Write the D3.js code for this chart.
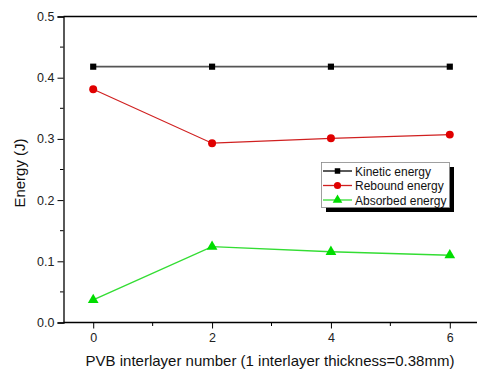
<!DOCTYPE html>
<html><head><meta charset="utf-8">
<script src="https://cdn.jsdelivr.net/npm/d3@7"></script>
<style>body{margin:0;background:#fff}svg{display:block}text{font-family:Arial,"Liberation Sans",sans-serif}</style>
</head><body><svg id="c" width="477" height="373"></svg>
<script>
const xValues = [0, 2, 4, 6];
const kinetic = [0.418, 0.418, 0.418, 0.418];
const rebound = [0.381, 0.293, 0.301, 0.307];
const absorbed = [0.037, 0.124, 0.1155, 0.110];
const seriesNames = ["Kinetic energy", "Rebound energy", "Absorbed energy"];
const xTicks = [0, 2, 4, 6];
const yTicks = [0.0, 0.1, 0.2, 0.3, 0.4, 0.5];

const svg = d3.select("#c");
const x = d3.scaleLinear().domain([-0.5, 6.5]).range([63.5, 479.5]);
const y = d3.scaleLinear().domain([0, 0.5]).range([322.5, 16.5]);

svg.append("line").attr("x1", 63.5).attr("x2", 477).attr("y1", y(0.5)).attr("y2", y(0.5)).attr("stroke", "#000").attr("stroke-width", 1.3);

const yMinor = [0.05, 0.15, 0.25, 0.35, 0.45];
svg.append("g").selectAll("line").data(yMinor).join("line")
  .attr("x1", 60).attr("x2", 63.5).attr("y1", d => y(d)).attr("y2", d => y(d)).attr("stroke", "#000");
const xMinor = [1, 3, 5];
svg.append("g").selectAll("line").data(xMinor).join("line")
  .attr("y1", 322.5).attr("y2", 326).attr("x1", d => x(d)).attr("x2", d => x(d)).attr("stroke", "#000");

const yAxis = svg.append("g").attr("transform", "translate(63.5,0)")
  .call(d3.axisLeft(y).tickValues(yTicks).tickFormat(d3.format(".1f")).tickSize(6).tickPadding(3));
const xAxis = svg.append("g").attr("transform", "translate(0,322.5)")
  .call(d3.axisBottom(x).tickValues(xTicks).tickFormat(d3.format("d")).tickSize(6).tickPadding(5));
[yAxis, xAxis].forEach(a => {
  a.select(".domain").attr("stroke-width", 1.3);
  a.selectAll("text").attr("font-size", 12.5).attr("fill", "#222");
});
xAxis.select(".domain").attr("d", "M63.5,0H477");

svg.append("text").attr("x", 270).attr("y", 366).attr("text-anchor", "middle")
  .attr("font-size", 15).attr("fill", "#111").text("PVB interlayer number (1 interlayer thickness=0.38mm)");
svg.append("text").attr("transform", "translate(25,173) rotate(-90)").attr("text-anchor", "middle")
  .attr("font-size", 15).attr("fill", "#111").text("Energy (J)");

const series = [
  {vals: kinetic, color: "#555", mcolor: "#000", shape: d3.symbolSquare, size: 38, w: 1.8},
  {vals: rebound, color: "#d02020", mcolor: "#e00000", shape: d3.symbolCircle, size: 50, w: 1.2},
  {vals: absorbed, color: "#33dd33", mcolor: "#00dd00", shape: d3.symbolTriangle, size: 50, w: 1.4}
];
const line = d3.line().x(d => x(d[0])).y(d => y(d[1]));
series.forEach(s => {
  const pts = xValues.map((xv, i) => [xv, s.vals[i]]);
  svg.append("path").attr("d", line(pts)).attr("fill", "none").attr("stroke", s.color).attr("stroke-width", s.w);
  svg.append("g").selectAll("path").data(pts).join("path")
    .attr("transform", d => `translate(${x(d[0])},${y(d[1])})`)
    .attr("d", d3.symbol().type(s.shape).size(s.size)).attr("fill", s.mcolor);
});

const lg = svg.append("g");
lg.append("rect").attr("x", 326).attr("y", 167).attr("width", 128).attr("height", 45).attr("fill", "#000");
lg.append("rect").attr("x", 321.5).attr("y", 162.5).attr("width", 128).attr("height", 45).attr("fill", "#fff").attr("stroke", "#888").attr("stroke-width", 0.8);
series.forEach((s, i) => {
  const yy = 171 + i * 14.5;
  lg.append("line").attr("x1", 323).attr("x2", 352).attr("y1", yy).attr("y2", yy).attr("stroke", i === 0 ? "#000" : s.color).attr("stroke-width", 1.3);
  lg.append("path").attr("transform", `translate(337.5,${yy})`).attr("d", d3.symbol().type(s.shape).size(s.size * 0.8)).attr("fill", s.mcolor);
  lg.append("text").attr("x", 355).attr("y", yy + 4.5).attr("font-size", 12).attr("fill", "#111").text(seriesNames[i]);
});
</script></body></html>
